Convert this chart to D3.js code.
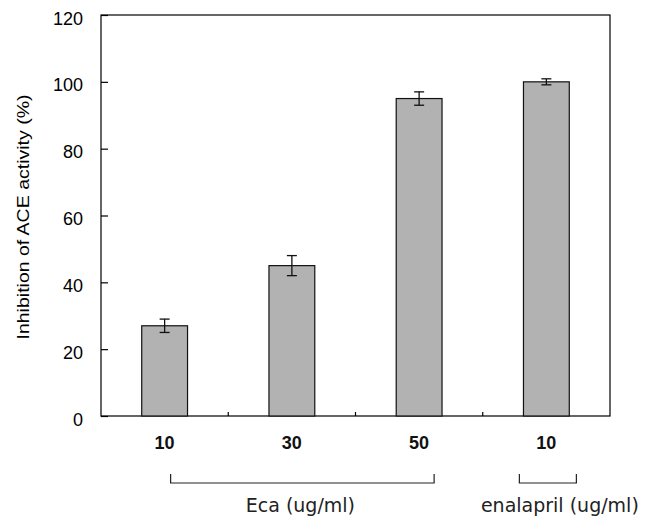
<!DOCTYPE html>
<html>
<head>
<meta charset="utf-8">
<script src="https://cdn.jsdelivr.net/npm/d3@7"></script>
<style>
  body { margin: 0; background: #fff; }
  svg { display: block; }
</style>
</head>
<body>
<svg id="chart" width="654" height="518"></svg>
<script>
// data
const categories = ["Eca 10", "Eca 30", "Eca 50", "enalapril 10"];
const tickLabels = ["10", "30", "50", "10"];
const inhibition = [27, 45, 95, 100];
const errors = [2, 3, 2, 0.9];
const yTicks = [0, 20, 40, 60, 80, 100, 120];
const groups = [
  { label: "Eca (ug/ml)", from: 0, to: 2, left: 6, right: 15, textDx: -2 },
  { label: "enalapril (ug/ml)", from: 3, to: 3, left: -27, right: 30, textDx: 12 }
];

const svg = d3.select("#chart");
const margin = { top: 15, right: 44, bottom: 102, left: 101 };
const width = 654 - margin.left - margin.right;
const height = 518 - margin.top - margin.bottom;

const g = svg.append("g").attr("transform", `translate(${margin.left},${margin.top})`);

const x = d3.scaleBand().domain(categories).range([0, width]).paddingInner(0.64).paddingOuter(0.32);
const y = d3.scaleLinear().domain([0, 120]).range([height, 0]);

// frame
g.append("rect")
  .attr("x", 0).attr("y", 0)
  .attr("width", width).attr("height", height)
  .attr("fill", "none").attr("stroke", "#000").attr("stroke-width", 1.2);

// y axis, ticks point inward
const yAxis = g.append("g")
  .call(d3.axisLeft(y).tickValues(yTicks).tickSize(-7).tickPadding(18));
yAxis.select(".domain").remove();
yAxis.selectAll("line").attr("stroke", "#000").attr("stroke-width", 1.2);
yAxis.selectAll("text")
  .attr("dy", "0.5em")
  .style("font-family", "Liberation Sans, Arial, sans-serif")
  .style("font-size", "18px")
  .attr("fill", "#000");

// category dividers on bottom edge
const step = x.step();
g.selectAll(".divider")
  .data(categories.slice(1))
  .join("line")
  .attr("x1", d => x(d) - (step - x.bandwidth()) / 2)
  .attr("x2", d => x(d) - (step - x.bandwidth()) / 2)
  .attr("y1", height).attr("y2", height - 4)
  .attr("stroke", "#000").attr("stroke-width", 1.2);

// category labels
g.selectAll(".cat")
  .data(categories)
  .join("text")
  .attr("x", d => x(d) + x.bandwidth() / 2)
  .attr("y", height + 33)
  .attr("text-anchor", "middle")
  .style("font-family", "Liberation Sans, Arial, sans-serif")
  .style("font-size", "18px")
  .style("font-weight", "bold")
  .attr("fill", "#111")
  .text((d, i) => tickLabels[i]);

// bars
g.selectAll(".bar")
  .data(categories)
  .join("rect")
  .attr("x", d => x(d))
  .attr("y", (d, i) => y(inhibition[i]))
  .attr("width", x.bandwidth())
  .attr("height", (d, i) => height - y(inhibition[i]))
  .attr("fill", "#b2b2b2")
  .attr("stroke", "#111").attr("stroke-width", 1.2);

// error bars
const err = g.selectAll(".err")
  .data(categories)
  .join("g")
  .attr("transform", d => `translate(${x(d) + x.bandwidth() / 2},0)`)
  .attr("stroke", "#111").attr("stroke-width", 1.3);
err.append("line")
  .attr("y1", (d, i) => y(inhibition[i] + errors[i]))
  .attr("y2", (d, i) => y(inhibition[i] - errors[i]));
err.append("line")
  .attr("x1", -5).attr("x2", 5)
  .attr("y1", (d, i) => y(inhibition[i] + errors[i]))
  .attr("y2", (d, i) => y(inhibition[i] + errors[i]));
err.append("line")
  .attr("x1", -5).attr("x2", 5)
  .attr("y1", (d, i) => y(inhibition[i] - errors[i]))
  .attr("y2", (d, i) => y(inhibition[i] - errors[i]));

// group brackets
const center = i => x(categories[i]) + x.bandwidth() / 2;
const by = height + 67;
const brackets = g.selectAll(".bracket")
  .data(groups)
  .join("g");
brackets.append("path")
  .attr("d", d => {
    const x0 = center(d.from) + d.left, x1 = center(d.to) + d.right;
    return `M${x0},${by - 9}V${by}H${x1}V${by - 9}`;
  })
  .attr("fill", "none").attr("stroke", "#222").attr("stroke-width", 1.2);
brackets.append("text")
  .attr("x", d => (center(d.from) + d.left + center(d.to) + d.right) / 2 + d.textDx)
  .attr("y", by + 29)
  .attr("text-anchor", "middle")
  .style("font-family", "DejaVu Sans, sans-serif")
  .style("font-size", "19px")
  .attr("fill", "#222")
  .text(d => d.label);

// y axis title
svg.append("text")
  .attr("transform", `translate(29,217) rotate(-90)`)
  .attr("text-anchor", "middle")
  .attr("textLength", 245)
  .attr("lengthAdjust", "spacingAndGlyphs")
  .style("font-family", "Liberation Sans, Arial, sans-serif")
  .style("font-size", "16.5px")
  .text("Inhibition of ACE activity (%)");
</script>
</body>
</html>
